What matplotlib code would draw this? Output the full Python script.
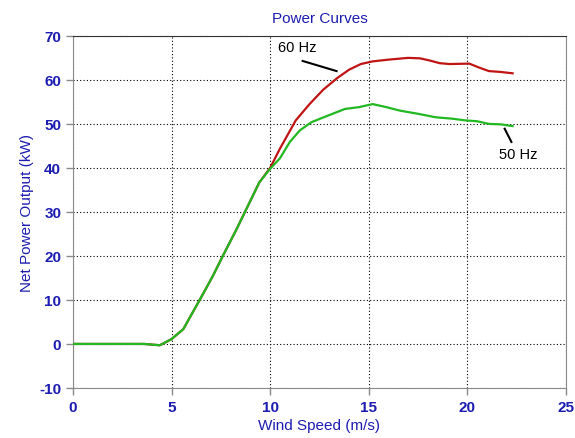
import matplotlib

matplotlib.use("Agg")

import matplotlib.pyplot as plt

plt.rcParams["font.family"] = ["Liberation Sans", "DejaVu Sans"]
plt.rcParams["axes.unicode_minus"] = False

# Curvas de potencia neta vs. velocidad de viento
viento_60hz = [0, 3.6, 4.4, 5.0, 5.6, 6.1, 6.6, 7.1, 7.6, 8.3, 8.8, 9.45, 10.0,
               10.5, 11.3, 12.0, 12.7, 13.4, 14.0, 14.6, 15.2, 16.0, 17.0, 17.6,
               18.1, 18.6, 19.1, 20.1, 20.6, 21.1, 21.7, 22.3]
potencia_60hz = [0, 0, -0.3, 1.1, 3.4, 7.4, 11.4, 15.5, 20.0, 26.1, 30.7, 36.7, 40.0,
                 44.4, 50.8, 54.5, 57.8, 60.4, 62.3, 63.6, 64.2, 64.6, 65.0, 64.9,
                 64.4, 63.8, 63.6, 63.7, 62.8, 62.0, 61.8, 61.5]

viento_50hz = [0, 3.6, 4.4, 5.0, 5.6, 6.1, 6.6, 7.1, 7.6, 8.3, 8.8, 9.45, 10.0,
               10.5, 11.0, 11.5, 12.1, 13.0, 13.8, 14.5, 15.2, 15.9, 16.6, 17.5,
               18.4, 19.2, 19.9, 20.5, 21.1, 21.7, 22.3]
potencia_50hz = [0, 0, -0.3, 1.1, 3.4, 7.4, 11.4, 15.5, 20.0, 26.1, 30.7, 36.7, 39.8,
                 42.2, 45.9, 48.5, 50.4, 52.0, 53.4, 53.8, 54.5, 53.8, 53.0, 52.3,
                 51.5, 51.2, 50.8, 50.6, 50.0, 49.9, 49.5]

ticks_x = [0, 5, 10, 15, 20, 25]
ticks_y = [-10, 0, 10, 20, 30, 40, 50, 60, 70]

AZUL = "#1c1cb0"
GRIS = "#8a8a8a"

fig = plt.figure(figsize=(5.75, 4.39), dpi=100)
ax = fig.add_axes([0.127, 0.114, 0.857, 0.802])

ax.plot(viento_60hz, potencia_60hz, color="#c01414", lw=1.6, zorder=3)
ax.plot(viento_50hz, potencia_50hz, color="#22b822", lw=1.6, zorder=4)

ax.set_xlim(0, 25)
ax.set_ylim(-10, 70)
ax.set_xticks(ticks_x)
ax.set_yticks(ticks_y)
ax.grid(True, color="black", linestyle=(0, (1, 2)), linewidth=0.8)

for lado in ("left", "bottom", "right"):
    ax.spines[lado].set_color(GRIS)
ax.spines["top"].set_color("#333333")
ax.tick_params(colors=GRIS, labelcolor=AZUL, labelsize=11, length=5, width=1)
for etiqueta in ax.get_xticklabels() + ax.get_yticklabels():
    etiqueta.set_fontweight("bold")

ax.set_title("Power Curves", color=AZUL, fontsize=11, pad=10)
ax.set_xlabel("Wind Speed (m/s)", color=AZUL, fontsize=11, labelpad=3)
ax.set_ylabel("Net Power Output (kW)", color=AZUL, fontsize=11, labelpad=4)

# Etiquetas de cada curva con su trazo guía
ax.text(10.4, 67.5, "60 Hz", fontsize=10.5, va="center", ha="left", color="black")
ax.plot([11.65, 13.37], [64.3, 62.0], color="black", lw=1.5, zorder=5)
ax.text(21.6, 43.2, "50 Hz", fontsize=10.5, va="center", ha="left", color="black")
ax.plot([21.9, 22.24], [48.9, 45.9], color="black", lw=1.5, zorder=5)

fig.savefig("out.png", dpi=100)
